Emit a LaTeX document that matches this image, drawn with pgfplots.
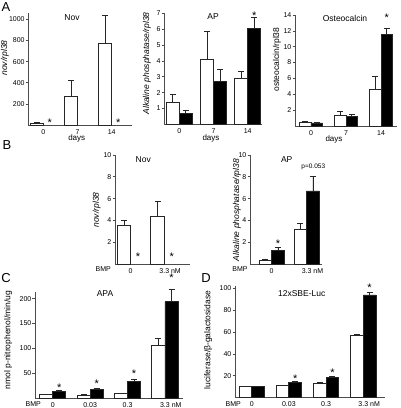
\documentclass[border=0pt]{standalone}
\usepackage{fontspec}
\setmainfont{Liberation Sans}
\usepackage{pgfplots}
\pgfplotsset{compat=1.18}
\newcommand\tk{\fontsize{7}{8}\selectfont}
\newcommand\lb{\fontsize{8.5}{9}\selectfont}
\pgfplotsset{
 bp/.style={
  scale only axis, clip=false,
  axis x line=bottom, axis y line=left,
  axis line style={-, line width=0.9pt, draw=black!70},
  ymin=0,
  xtick style={draw=none},
  ytick style={line width=0.7pt, draw=black!70},
  tick align=outside, major tick length=2.5pt,
  tick label style={font=\tk, text=black},
  /pgf/number format/assume math mode=true,
  /pgf/number format/1000 sep={},
  yticklabel style={inner sep=1pt},
  xticklabel style={inner sep=0.5pt, yshift=-1pt},
  xtick={0,1,2,3},
 },
 wb/.style={ybar, bar shift=0pt, fill=white, draw=black!85, line width=0.9pt,
   error bars/y dir=plus, error bars/y explicit,
   error bars/error bar style={line width=0.9pt, draw=black!85},
   error bars/error mark options={rotate=90, mark size=3pt, line width=0.9pt, draw=black!85}},
 bb/.style={wb, fill=black},
 st/.style={draw=none, mark=none, forget plot, nodes near coords={\smash{*}},
   every node near coord/.append style={font=\fontsize{11}{11}\selectfont, anchor=base, inner sep=0pt, yshift=-6.2pt}},
}
\begin{document}
\begin{tikzpicture}
\useasboundingbox (0,0) rectangle (400pt,408pt);

% ---------- A: Nov ----------
\begin{axis}[bp, at={(28.3pt,283pt)}, width=103.4pt, height=112pt,
  xmin=-0.439, xmax=2.585, ymax=1060, ytick={200,400,...,1000},
  xticklabels={0,7,14}, bar width=0.38]
\addplot[wb] coordinates {(-0.19,15) +- (0,6) (0.81,268) +- (0,155) (1.81,768) +- (0,267)};
\addplot[st] coordinates {(0.19,47) (2.19,47)};
\end{axis}

% ---------- A: AP ----------
\begin{axis}[bp, at={(164.3pt,283.7pt)}, width=97.7pt, height=111pt,
  xmin=-0.439, xmax=2.418, ymax=7, ytick={1,2,...,7},
  xticklabels={0,7,14}, bar width=0.38]
\addplot[wb] coordinates {(-0.19,1.36) +- (0,0.55) (0.81,4.06) +- (0,1.78) (1.81,2.9) +- (0,0.46)};
\addplot[bb] coordinates {(0.19,0.69) +- (0,0.21) (1.19,2.69) +- (0,0.74) (2.19,6.06) +- (0,0.69)};
\addplot[st] coordinates {(2.19,7.0)};
\end{axis}

% ---------- A: Osteocalcin ----------
\begin{axis}[bp, at={(295pt,282pt)}, width=102pt, height=111pt,
  xmin=-0.457, xmax=2.457, ymax=14, ytick={2,4,...,14},
  xticklabels={0,7,14}, bar width=0.33]
\addplot[wb] coordinates {(-0.165,0.42) +- (0,0.18) (0.835,1.39) +- (0,0.5) (1.835,4.62) +- (0,1.58)};
\addplot[bb] coordinates {(0.165,0.38) +- (0,0.12) (1.165,1.26) +- (0,0.19) (2.165,11.55) +- (0,0.75)};
\addplot[st] coordinates {(2.165,14.0)};
\end{axis}

% ---------- B: Nov ----------
\begin{axis}[bp, at={(115pt,144pt)}, width=75pt, height=109pt,
  xmin=-0.467, xmax=1.765, ymax=10, ytick={2,4,...,10},
  xticklabels={0,3.3\rlap{ nM}}, bar width=0.4]
\addplot[wb] coordinates {(-0.2,3.58) +- (0,0.46) (0.8,4.4) +- (0,1.38)};
\addplot[st] coordinates {(0.22,0.9) (1.22,0.9)};
\end{axis}

% ---------- B: AP ----------
\begin{axis}[bp, at={(250pt,144pt)}, width=71.7pt, height=109pt,
  xmin=-0.62, xmax=1.43, ymax=10, ytick={2,4,...,10},
  xticklabels={0,3.3\rlap{ nM}}, bar width=0.36]
\addplot[wb] coordinates {(-0.18,0.37) +- (0,0.08) (0.82,3.18) +- (0,0.55)};
\addplot[bb] coordinates {(0.18,1.22) +- (0,0.31) (1.18,6.7) +- (0,1.37)};
\addplot[st] coordinates {(0.18,2.05)};
\node[font=\fontsize{6.5}{7}\selectfont] at (axis cs:1.19,8.87) {p=0.053};
\end{axis}

% ---------- C: APA ----------
\begin{axis}[bp, at={(35pt,10pt)}, width=148.3pt, height=106.3pt,
  xmin=-0.473, xmax=3.49, ymax=214, ytick={50,100,150,200},
  xticklabels={0,0.03,0.3,3.3\rlap{ nM}}, bar width=0.35]
\addplot[wb] coordinates {(-0.175,7.4) +- (0,0.6) (0.825,6) +- (0,0.5) (1.825,9.4) +- (0,0.5) (2.825,105) +- (0,15)};
\addplot[bb] coordinates {(0.175,14) +- (0,2) (1.175,18) +- (0,1.5) (2.175,33) +- (0,5) (3.175,194) +- (0,25)};
\addplot[st] coordinates {(0.175,26) (1.175,33) (2.175,53) (3.175,247)};
\end{axis}

% ---------- D: 12xSBE-Luc ----------
\begin{axis}[bp, at={(235pt,10.3pt)}, width=150pt, height=111.7pt,
  xmin=-0.449, xmax=3.583, ymax=102, ytick={20,40,...,100},
  xticklabels={0,0.03,0.3,3.3\rlap{ nM}}, bar width=0.34]
\addplot[wb] coordinates {(-0.17,10) +- (0,0.6) (0.83,11) +- (0,0.5) (1.83,13.2) +- (0,0.5) (2.83,57.3) +- (0,0.6)};
\addplot[bb] coordinates {(0.17,10.1) +- (0,0.5) (1.17,13.7) +- (0,0.8) (2.17,18.6) +- (0,1.2) (3.17,93.8) +- (0,2.1)};
\addplot[st] coordinates {(1.17,19.8) (2.17,25.3) (3.17,103)};
\end{axis}

% ---------- text ----------
\begin{scope}[every node/.style={font=\lb, inner sep=0pt}]
\node at (72pt,390pt) {Nov};
\node at (213pt,391pt) {AP};
\node at (345pt,389.7pt) {Osteocalcin};
\node at (143.3pt,248pt) {Nov};
\node at (286.7pt,248pt) {AP};
\node at (105pt,114.7pt) {APA};
\node at (301.7pt,114.7pt) {12xSBE-Luc};
\node[font=\fontsize{8}{8}\selectfont] at (76.7pt,269.3pt) {days};
\node[font=\fontsize{8}{8}\selectfont] at (211pt,269.5pt) {days};
\node[font=\fontsize{8}{8}\selectfont] at (334pt,268.8pt) {days};
\node[rotate=90] at (5pt,350pt) {\itshape nov/rpl38};
\node[rotate=90] at (147pt,344.5pt) {\itshape Alkaline phosphatase/rpl38};
\node[rotate=90] at (277pt,348.5pt) {osteocalcin/rpl38};
\node[rotate=90] at (96.7pt,198pt) {\itshape nov/rpl38};
\node[rotate=90] at (237pt,198pt) {\itshape Alkaline phosphatase/rpl38};
\node[rotate=90] at (8.3pt,68pt) {nmol p-nitrophenol/min/ug};
\node[rotate=90] at (208.3pt,68pt) {luciferase/β-galactosidase};
\node[font=\tk] at (103.3pt,139pt) {BMP};
\node[font=\tk] at (240pt,139pt) {BMP};
\node[font=\tk] at (33.3pt,4pt) {BMP};
\node[font=\tk] at (233.3pt,4pt) {BMP};
\node[font=\fontsize{13}{13}\selectfont] at (6pt,401pt) {A};
\node[font=\fontsize{13}{13}\selectfont] at (7pt,263pt) {B};
\node[font=\fontsize{13}{13}\selectfont] at (6pt,130pt) {C};
\node[font=\fontsize{13}{13}\selectfont] at (206pt,130pt) {D};
\end{scope}
\end{tikzpicture}
\end{document}
